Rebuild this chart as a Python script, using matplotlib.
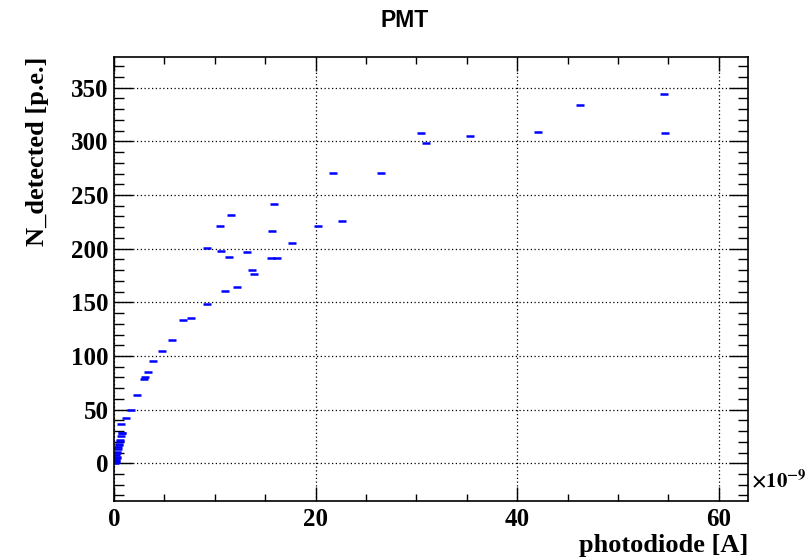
import numpy as np
import matplotlib
matplotlib.use("Agg")
import matplotlib.pyplot as plt
from matplotlib.ticker import MultipleLocator

# photodiode current in units of 1e-9 A, detected photoelectrons
photodiode = [54.6, 46.2, 42.1, 54.7, 30.5, 31.0, 35.3, 21.7, 26.5, 22.6, 20.2,
              15.9, 11.6, 10.5, 15.7, 17.7, 9.2, 10.6, 13.2, 11.4, 15.6, 16.2,
              13.7, 13.9, 12.2, 11.0, 9.2, 7.6, 6.8, 5.75, 4.76, 3.87, 3.34,
              3.08, 2.95, 2.28, 1.65, 1.22, 0.66, 0.76, 0.83, 0.69, 0.6, 0.55,
              0.53, 0.45, 0.39, 0.33, 0.29, 0.23, 0.2, 0.13, 0.15, 0.25, 0.35,
              0.18, 0.3, 0.42, 0.12]
n_detected = [344.5, 333.6, 308.5, 307.5, 307.5, 298.8, 305.0, 270.9, 270.9, 226.1,
              221.5, 241.4, 231.4, 221.5, 216.5, 205.0, 200.7, 198.2, 197.3, 192.3,
              191.0, 191.6, 180.5, 176.4, 164.3, 160.9, 148.4, 135.0, 133.5, 115.2,
              105.0, 95.3, 85.0, 80.1, 78.8, 63.9, 49.7, 42.5, 36.3, 28.5, 28.0,
              25.2, 21.7, 20.5, 18.0, 17.0, 13.0, 9.3, 6.2, 3.0, 1.5, 0.0, 4.5,
              8.0, 11.0, 2.0, 5.0, 15.0, 0.8]

plt.rcParams['font.family'] = ['Liberation Serif', 'DejaVu Serif']
plt.rcParams['mathtext.fontset'] = 'stix'

fig = plt.figure(figsize=(8.1, 5.58), dpi=100)
ax = fig.add_axes([0.1407, 0.1022, 0.7828, 0.7956])

ax.plot(photodiode, n_detected, linestyle='none', marker='_', markersize=6,
        markeredgewidth=1.8, color='#0000ff')

ax.set_xlim(0, 62.9)
ax.set_ylim(-35.1, 378.6)

ax.xaxis.set_major_locator(MultipleLocator(20))
ax.xaxis.set_minor_locator(MultipleLocator(5))
ax.yaxis.set_major_locator(MultipleLocator(50))
ax.yaxis.set_minor_locator(MultipleLocator(10))

ax.tick_params(axis='both', which='both', direction='in', top=True, right=True,
               width=1.0, labelsize=18)
ax.tick_params(axis='x', which='major', length=10, pad=5)
ax.tick_params(axis='x', which='minor', length=5)
ax.tick_params(axis='y', which='major', length=14, pad=4)
ax.tick_params(axis='y', which='minor', length=7)
for lab in ax.get_xticklabels() + ax.get_yticklabels():
    lab.set_fontweight('bold')

for s in ax.spines.values():
    s.set_linewidth(1.2)

ax.grid(True, which='major', linestyle=(0, (1, 2)), color='black', linewidth=0.9)

ax.set_xlabel('photodiode [A]', fontsize=19, fontweight='bold', loc='right', labelpad=2)
ax.set_ylabel('N_detected [p.e.]', fontsize=19, fontweight='bold', loc='top', labelpad=16)

ax.text(1.005, 0.045, r'$\mathbf{\times 10^{-9}}$', transform=ax.transAxes,
        fontsize=15, ha='left', va='center')

fig.text(0.5, 0.963, 'PMT', fontsize=16.5, fontweight='bold',
         family=['Liberation Sans', 'DejaVu Sans'], ha='center', va='center')

fig.savefig('out.png', dpi=100)
